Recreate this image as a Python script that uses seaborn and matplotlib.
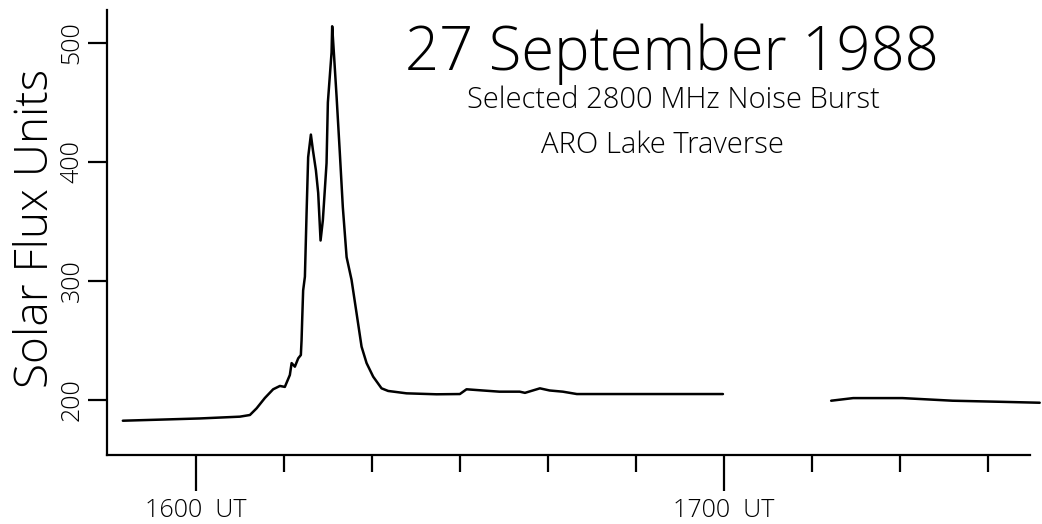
import numpy as np
import pandas as pd
import matplotlib
matplotlib.use("Agg")
import matplotlib.pyplot as plt
import seaborn as sns

# Minutes after 1600 UT and flux (solar flux units), two recorded segments
minutes_seg1 = [-8.3, -4.1, 0.45, 5.0, 6.14, 6.9, 7.84, 8.78, 9.55, 10.11, 10.68,
                10.88, 11.25, 11.63, 11.93, 12.01, 12.08, 12.19, 12.39, 12.58,
                12.76, 13.07, 13.3, 13.64, 13.9, 14.17, 14.43, 14.85, 15.0,
                15.42, 15.49, 15.68, 15.99, 16.36, 16.7, 17.13, 17.69, 18.26,
                18.83, 19.4, 20.15, 21.1, 21.85, 23.94, 27.35, 30.0, 30.76,
                32.6, 34.5, 36.8, 37.4, 39.1, 40.2, 41.7, 43.3, 51.6, 59.9]
flux_seg1 = [182.6, 183.5, 184.5, 186.0, 187.4, 193.0, 201.7, 209.0, 211.8, 211.0,
             221.0, 231.0, 228.0, 235.0, 237.8, 250.0, 267.0, 292.0, 303.6,
             357.0, 404.0, 423.0, 410.0, 393.0, 374.0, 334.0, 351.0, 399.0,
             450.0, 492.0, 514.0, 492.0, 455.0, 407.5, 362.0, 320.0, 301.0,
             273.0, 244.8, 231.0, 219.6, 209.8, 207.6, 205.6, 204.8, 205.0,
             209.0, 208.0, 207.0, 207.0, 206.0, 209.8, 208.0, 207.0, 205.0,
             205.0, 205.0]
minutes_seg2 = [72.2, 74.7, 80.3, 86.0, 91.4, 95.9]
flux_seg2 = [199.4, 201.6, 201.6, 199.4, 198.5, 197.7]

major_ticks = [0, 60]
major_labels = ["1600  UT", "1700  UT"]
minor_ticks = [10, 20, 30, 40, 50, 70, 80, 90]
flux_ticks = [200, 300, 400, 500]

title = "27 September 1988"
subtitle = "Selected 2800 MHz Noise Burst"
site = "ARO Lake Traverse"

df = pd.DataFrame({
    "minutes": minutes_seg1 + minutes_seg2,
    "flux": flux_seg1 + flux_seg2,
    "segment": ["a"] * len(minutes_seg1) + ["b"] * len(minutes_seg2),
})

sns.set_theme(style="ticks")
plt.rcParams["font.family"] = ["Open Sans", "DejaVu Sans"]
plt.rcParams["font.weight"] = "light"
plt.rcParams["text.color"] = "black"
plt.rcParams["axes.labelcolor"] = "black"

fig = plt.figure(figsize=(10.42, 5.24), dpi=100)
ax = fig.add_axes([0.1027, 0.1317, 0.8858, 0.8493])

sns.lineplot(data=df, x="minutes", y="flux", units="segment", estimator=None,
             color="black", linewidth=1.8, ax=ax, clip_on=False)

ax.set_xlim(-10.1, 94.8)
ax.set_ylim(153.8, 527.7)
sns.despine(ax=ax)
for side in ("left", "bottom"):
    ax.spines[side].set_linewidth(1.6)
    ax.spines[side].set_color("black")

ax.set_xticks(major_ticks)
ax.set_xticklabels(major_labels, fontsize=18, fontweight="light")
ax.set_xticks(minor_ticks, minor=True)
ax.tick_params(axis="x", which="major", direction="out", length=26, width=1.6,
               pad=5, colors="black")
ax.tick_params(axis="x", which="minor", direction="out", length=12, width=1.6,
               colors="black")

ax.set_yticks(flux_ticks)
ax.set_yticklabels([str(v) for v in flux_ticks], fontsize=18, rotation=90,
                   va="center", fontweight="light")
ax.tick_params(axis="y", direction="out", length=14, width=1.6, pad=2,
               colors="black")

ax.set_xlabel("")
ax.set_ylabel("Solar Flux Units", fontsize=33, fontweight="light")
ax.yaxis.set_label_coords(-0.052, 0.51)

fig.text(0.645, 0.866, title, fontsize=43, ha="center", va="baseline",
         fontweight="light")
fig.text(0.646, 0.794, subtitle, fontsize=21, ha="center", va="baseline",
         fontweight="light")
fig.text(0.636, 0.708, site, fontsize=21, ha="center", va="baseline",
         fontweight="light")

fig.savefig("out.png", dpi=100, facecolor="white")
